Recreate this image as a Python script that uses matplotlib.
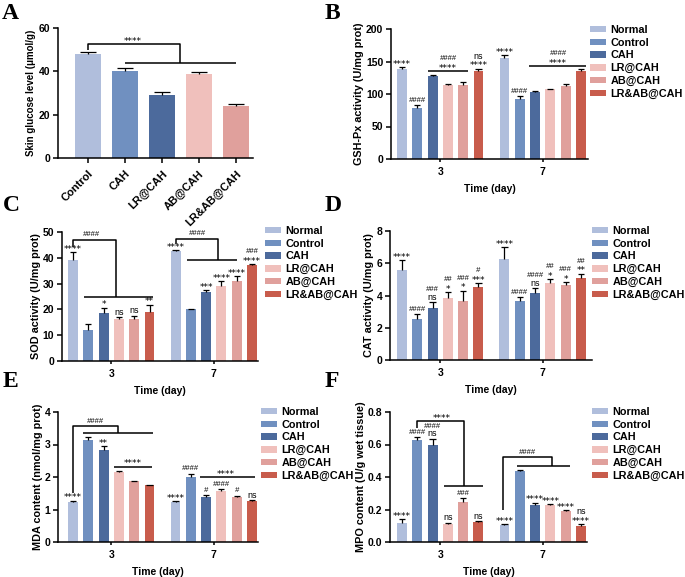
import matplotlib.pyplot as plt
import numpy as np

plt.rcParams['font.family'] = ['Liberation Sans', 'DejaVu Sans']
plt.rcParams['font.weight'] = 'bold'
plt.rcParams['axes.linewidth'] = 1.1

groups = ['Normal', 'Control', 'CAH', 'LR@CAH', 'AB@CAH', 'LR&AB@CAH']
colors = ['#b0bedc', '#7090c0', '#4c6a9c', '#f0c0bc', '#e0a09c', '#c85c4c']
days = ['3', '7']

# panel A: skin glucose
a_labels = ['Control', 'CAH', 'LR@CAH', 'AB@CAH', 'LR&AB@CAH']
a_vals = [48.2, 40.0, 29.3, 38.9, 24.1]
a_errs = [0.6, 1.6, 1.2, 1.0, 1.0]

# panel B: GSH-Px (day 3, day 7)
gsh_vals = [[139, 79, 128, 114, 114, 136], [156, 93, 103, 107, 113, 136]]
gsh_errs = [[2, 3.5, 1.5, 1, 4.5, 3], [3.5, 3.5, 2, 1, 2, 2]]
gsh_marks = [['****'], ['####'], [], [], [], ['****', 'ns'],
             ['****'], ['####'], [], [], [], []]

# panel C: SOD
sod_vals = [[39.3, 12.1, 18.6, 16.2, 16.4, 18.8], [42.6, 20.0, 26.6, 28.9, 30.9, 37.2]]
sod_errs = [[3.0, 2.2, 2.1, 0.8, 1.1, 3.0], [0.4, 0.3, 1.0, 2.0, 2.1, 0.3]]
sod_marks = [['****'], [], ['*'], ['ns'], ['ns'], ['**'],
             ['****'], [], ['***'], ['****'], ['****'], ['****', '###']]

# panel D: CAT
cat_vals = [[5.6, 2.55, 3.2, 3.85, 3.65, 4.55], [6.25, 3.65, 4.15, 4.75, 4.65, 5.1]]
cat_errs = [[0.6, 0.3, 0.4, 0.35, 0.65, 0.2], [0.75, 0.25, 0.3, 0.25, 0.2, 0.25]]
cat_marks = [['****'], ['####'], ['ns', '###'], ['*', '##'], ['*', '###'], ['***', '#'],
             ['****'], ['####'], ['ns', '####'], ['*', '##'], ['*', '###'], ['**', '##']]

# panel E: MDA
mda_vals = [[1.22, 3.13, 2.82, 2.15, 1.87, 1.74], [1.22, 2.0, 1.4, 1.58, 1.4, 1.27]]
mda_errs = [[0.05, 0.1, 0.12, 0.05, 0.02, 0.02], [0.03, 0.1, 0.05, 0.04, 0.03, 0.02]]
mda_marks = [['****'], [], ['**'], [], [], [],
             ['****'], ['####'], ['#'], ['####'], ['#'], ['ns']]

# panel F: MPO
mpo_vals = [[0.115, 0.625, 0.595, 0.11, 0.245, 0.125], [0.105, 0.435, 0.23, 0.225, 0.19, 0.1]]
mpo_errs = [[0.025, 0.02, 0.04, 0.008, 0.025, 0.004], [0.005, 0.01, 0.012, 0.01, 0.005, 0.008]]
mpo_marks = [['****'], ['####'], ['ns', '####'], ['ns'], ['###'], ['ns'],
             ['****'], [], ['****'], ['****'], ['****'], ['****', 'ns']]

# significance brackets: polylines (x in bar-position units) and labels
a_lines = [([0, 0, 2.5, 2.5], [50, 52.5, 52.5, 43.8]), ([1, 4], [43.8, 43.8])]
a_text = [(1.2, 52.5, ['****'])]
b_lines = [([1.7, 4.3], [135, 135]), ([8.3, 12.0], [143, 143])]
b_text = [(3.0, 135, ['****', '####']), (10.2, 143, ['****', '####'])]
c_lines = [([0, 0, 2.8, 2.8], [44, 47, 47, 25]), ([0.72, 5.2], [25, 25]),
           ([6.7, 6.7, 9.5, 9.5], [45.5, 47.4, 47.4, 39]), ([7.45, 10.7], [39, 39])]
c_text = [(1.2, 47, ['####']), (8.1, 47.4, ['####'])]
e_lines = [([0, 0, 2.96, 2.96], [1.5, 3.56, 3.56, 3.35]), ([0.67, 5.25], [3.35, 3.35]),
           ([2.7, 5.15], [2.32, 2.32]), ([8.3, 11.9], [1.99, 1.99])]
e_text = [(1.44, 3.56, ['####']), (3.9, 2.32, ['****']), (10.0, 1.99, ['****'])]
f_lines = [([1, 1, 4.05, 4.05], [0.70, 0.742, 0.742, 0.346]), ([2.75, 5.3], [0.346, 0.346]),
           ([6.6, 6.6, 9.8, 9.8], [0.196, 0.522, 0.522, 0.47]), ([7.5, 11.0], [0.47, 0.47])]
f_text = [(2.6, 0.742, ['****']), (8.2, 0.522, ['####'])]

bar_x = np.concatenate([np.arange(6), np.arange(6) + 6.7])


def mark_style(s):
    if '*' in s:
        return dict(fontsize=6.6, family='DejaVu Sans', fontweight='normal'), -1.5
    if '#' in s:
        return dict(fontsize=5.5, style='italic', fontweight='normal'), 0
    return dict(fontsize=6.5, fontweight='normal'), 0


def stack(ax, x, y, labels, first=3.5, step=5.5):
    for k, s in enumerate(labels):
        kw, dy = mark_style(s)
        ax.annotate(s, (x, y), xytext=(0, first + step * k + dy), textcoords='offset points',
                    ha='center', va='center', annotation_clip=False, **kw)


def style_axis(ax, xsize=7.5):
    for side in ['top', 'right']:
        ax.spines[side].set_visible(False)
    ax.tick_params(axis='y', direction='out', length=3.5, width=1.1, labelsize=7.5, pad=2)
    ax.tick_params(axis='x', direction='out', length=2.5, width=1.1, labelsize=xsize, pad=3)
    for lab in ax.get_yticklabels() + ax.get_xticklabels():
        lab.set_fontweight('bold')


def draw_lines(ax, lines, texts):
    for xs, ys in lines:
        ax.plot(xs, ys, color='k', lw=1.1, solid_capstyle='butt', clip_on=False)
    for x, y, labs in texts:
        stack(ax, x, y, labs)


def grouped_panel(rect, vals, errs, marks, lines, texts, ylabel, ylim, yticks, xlim, leg_pos):
    ax = fig.add_axes(rect)
    v = np.concatenate(vals)
    e = np.concatenate(errs)
    for g in range(6):
        ax.bar(bar_x[[g, g + 6]], v[[g, g + 6]], width=0.65, color=colors[g], label=groups[g])
    ax.vlines(bar_x, v, v + e, color='k', lw=0.9)
    ax.hlines(v + e, bar_x - 0.2, bar_x + 0.2, color='k', lw=0.9)
    for i in range(12):
        stack(ax, bar_x[i], v[i] + e[i], marks[i])
    draw_lines(ax, lines, texts)
    ax.set_xlim(*xlim)
    ax.set_ylim(*ylim)
    ax.set_yticks(yticks)
    ax.set_xticks([2.5, 9.2])
    ax.set_xticklabels(days)
    ax.set_ylabel(ylabel, fontsize=7.8, fontweight='bold', labelpad=1.5)
    ax.set_xlabel('Time (day)', fontsize=7.5, fontweight='bold', labelpad=5)
    style_axis(ax)
    ax.legend(loc='upper left', bbox_to_anchor=leg_pos, bbox_transform=fig.transFigure,
              frameon=False, handlelength=1.5, handleheight=0.55,
              handletextpad=0.4, labelspacing=0.25, borderpad=0, borderaxespad=0,
              prop=dict(weight='bold', size=7.8))
    return ax


W, H = 685, 577
fig = plt.figure(figsize=(W / 100, H / 100), dpi=100)


def rect(l, r, t, b):
    return [l / W, 1 - b / H, (r - l) / W, (b - t) / H]


def fpos(x, y):
    return (x / W, 1 - y / H)


# panel A
axA = fig.add_axes(rect(58, 253, 28, 158))
ax_pos = np.arange(len(a_labels))
axA.bar(ax_pos, a_vals, width=0.68, color=colors[:5])
a_top = np.array(a_vals) + np.array(a_errs)
axA.vlines(ax_pos, a_vals, a_top, color='k', lw=0.9)
axA.hlines(a_top, ax_pos - 0.22, ax_pos + 0.22, color='k', lw=0.9)
draw_lines(axA, a_lines, a_text)
axA.set_xlim(-0.81, 4.46)
axA.set_ylim(0, 60)
axA.set_yticks([0, 20, 40, 60])
axA.set_xticks(ax_pos)
axA.set_xticklabels(a_labels, rotation=45, ha='right', rotation_mode='anchor')
axA.set_ylabel('Skin glucose level (μmol/g)', fontsize=7, fontweight='bold', labelpad=2)
style_axis(axA, xsize=8)
axA.tick_params(axis='x', length=3.5, pad=4)

grouped_panel(rect(391, 588, 29, 159), gsh_vals, gsh_errs, gsh_marks, b_lines, b_text,
              'GSH-Px activity (U/mg prot)', (0, 200), [0, 50, 100, 150, 200],
              (-0.72, 12.16), fpos(590, 25))
grouped_panel(rect(62, 258, 232, 361), sod_vals, sod_errs, sod_marks, c_lines, c_text,
              'SOD activity (U/mg prot)', (0, 50), [0, 10, 20, 30, 40, 50],
              (-0.72, 12.09), fpos(265, 226))
grouped_panel(rect(390, 592, 231, 360), cat_vals, cat_errs, cat_marks, [], [],
              'CAT activity (U/mg prot)', (0, 8), [0, 2, 4, 6, 8],
              (-0.78, 12.42), fpos(592, 226))
grouped_panel(rect(58, 258, 412, 542), mda_vals, mda_errs, mda_marks, e_lines, e_text,
              'MDA content (nmol/mg prot)', (0, 4), [0, 1, 2, 3, 4],
              (-0.98, 12.09), fpos(261, 407))
axF = grouped_panel(rect(390, 587, 412, 542), mpo_vals, mpo_errs, mpo_marks, f_lines, f_text,
                    'MPO content (U/g wet tissue)', (0, 0.8), [0, 0.2, 0.4, 0.6, 0.8],
                    (-0.78, 12.09), fpos(592, 407))
axF.set_yticklabels(['0.0', '0.2', '0.4', '0.6', '0.8'], fontweight='bold')

for letter, (x, y) in zip('ABCDEF', [(2, 3), (325, 3), (3, 195), (325, 195), (3, 371), (325, 371)]):
    fig.text(x / W, 1 - y / H, letter, ha='left', va='top', fontsize=17,
             family='Liberation Serif', fontweight='bold')

fig.savefig('out.png', dpi=100)
